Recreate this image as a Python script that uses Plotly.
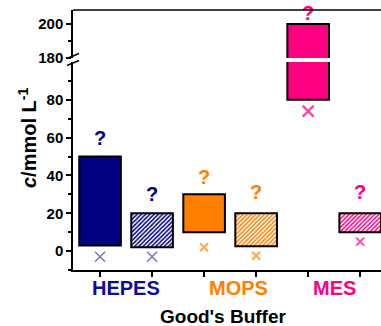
import plotly.graph_objects as go

# Buffer concentrations (mmol/L): solid box and hatched box per buffer
buffers = ["HEPES", "MOPS", "MES"]
colors = ["#000080", "#FF8000", "#FF0080"]
label_colors = ["#0C0CA0", "#FF8000", "#FF0080"]
solid_low = [3, 10, 80]
solid_high = [50, 30, 200]
hatch_low = [2, 2.5, 10]
hatch_high = [20, 20, 20]
q_solid = [59, 38, 205]
q_hatch = [29, 30, 30]
x_solid = [-3, 2, 74]
x_hatch = [-3, -2.5, 5]
cross_colors = ["#3030A0", "#FF8000", "#FF0080"]

y_ticks_low = [0, 20, 40, 60, 80]
y_ticks_high = [180, 200]
LOW_MAX = 100       # top of lower axis segment
HIGH_MIN = 180      # bottom of upper axis segment

pos_solid = [2 * i + 1 for i in range(len(buffers))]
pos_hatch = [2 * i + 2 for i in range(len(buffers))]

FONT = "Arial, Liberation Sans, sans-serif"
W, H = 381, 326
ML, MR, MT, MB = 73, 0, 10, 56
PW, PH = W - ML - MR, H - MT - MB

fig = go.Figure()

# bars drawn on both segments; each subplot clips what lies outside its range
for yax in ("y", "y2"):
    fig.add_trace(go.Bar(
        x=pos_solid, base=solid_low,
        y=[h - l for h, l in zip(solid_high, solid_low)],
        width=0.8, yaxis=yax,
        marker=dict(color=colors, line=dict(color="black", width=2)),
        showlegend=False, hoverinfo="skip"))
    fig.add_trace(go.Bar(
        x=pos_hatch, base=hatch_low,
        y=[h - l for h, l in zip(hatch_high, hatch_low)],
        width=0.8, yaxis=yax,
        marker=dict(color="white", line=dict(color="black", width=2),
                    pattern=dict(shape="/", fgcolor=colors, bgcolor="white",
                                 size=3, solidity=0.5, fillmode="replace")),
        showlegend=False, hoverinfo="skip"))


def split(xs, ys, extra):
    lo = [(x, y, e) for x, y, e in zip(xs, ys, extra) if y < HIGH_MIN]
    hi = [(x, y, e) for x, y, e in zip(xs, ys, extra) if y >= HIGH_MIN]
    return lo, hi


# question marks above the boxes
for xs, ys in ((pos_solid, q_solid), (pos_hatch, q_hatch)):
    lo, hi = split(xs, ys, colors)
    for pts, yax in ((lo, "y"), (hi, "y2")):
        if not pts:
            continue
        fig.add_trace(go.Scatter(
            x=[p[0] for p in pts], y=[p[1] for p in pts], mode="text",
            text=["?"] * len(pts), yaxis=yax, cliponaxis=False,
            textfont=dict(family=FONT, size=20, weight="bold",
                          color=[p[2] for p in pts]),
            showlegend=False, hoverinfo="skip"))

# cross markers below the boxes
cross_size = {"solid": [10, 8, 11], "hatch": [10, 8, 8]}
cross_width = {"solid": [1.2, 2, 2.5], "hatch": [1.2, 2, 2]}
for key, xs, ys in (("solid", pos_solid, x_solid), ("hatch", pos_hatch, x_hatch)):
    extra = list(zip(cross_colors, cross_size[key], cross_width[key]))
    lo, hi = split(xs, ys, extra)
    for pts, yax in ((lo, "y"), (hi, "y2")):
        if not pts:
            continue
        fig.add_trace(go.Scatter(
            x=[p[0] for p in pts], y=[p[1] for p in pts], mode="markers",
            yaxis=yax, cliponaxis=False,
            marker=dict(symbol="x-thin", size=[p[2][1] for p in pts],
                        line=dict(color=[p[2][0] for p in pts],
                                  width=[p[2][2] for p in pts])),
            showlegend=False, hoverinfo="skip"))

low_top = (270 - 62) / PH
high_bot = (270 - 58) / PH

axis_common = dict(showline=True, linecolor="black", linewidth=1.5,
                   ticks="outside", ticklen=5, tickwidth=1.5, tickcolor="black",
                   showgrid=False, zeroline=False,
                   tickfont=dict(family=FONT, size=15, weight="bold", color="black"))

fig.update_layout(
    width=W, height=H,
    margin=dict(l=ML, r=MR, t=MT, b=MB),
    paper_bgcolor="white", plot_bgcolor="white",
    barmode="overlay",
    xaxis=dict(range=[0.48, 6.4], tickvals=pos_solid + pos_hatch,
               showticklabels=False, anchor="y", **axis_common),
    yaxis=dict(domain=[0, low_top], range=[-10, LOW_MAX], tickvals=y_ticks_low,
               minor=dict(tickvals=[-10, 10, 30, 50, 70, 90], ticks="outside",
                          ticklen=3, tickwidth=1.5, tickcolor="black"),
               **axis_common),
    yaxis2=dict(domain=[high_bot, 1], range=[HIGH_MIN, 208.2], tickvals=y_ticks_high,
                anchor="x",
                minor=dict(tickvals=[190], ticks="outside",
                           ticklen=3, tickwidth=1.5, tickcolor="black"),
                **axis_common),
)


def px(xp):
    return (xp - ML) / PW


def py(yp):
    return (H - MB - yp) / PH


# top frame line and axis break marks
shapes = [dict(type="line", xref="paper", yref="paper", x0=0, x1=1, y0=1, y1=1,
               line=dict(color="black", width=1.5))]
for yc in (56, 63):
    shapes.append(dict(type="line", xref="paper", yref="paper",
                       x0=px(67), y0=py(yc + 2.5), x1=px(79), y1=py(yc - 2.5),
                       line=dict(color="black", width=1.5)))
fig.update_layout(shapes=shapes)

annotations = []
# buffer names under each pair of boxes
label_x = [1.5, 3.66, 5.5]
for name, lx, c in zip(buffers, label_x, label_colors):
    annotations.append(dict(x=lx, y=py(288), xref="x", yref="paper", text=name,
                            showarrow=False, xanchor="center", yanchor="middle",
                            font=dict(family=FONT, size=20, weight="bold", color=c)))
annotations.append(dict(x=px(223), y=py(316), xref="paper", yref="paper",
                        text="Good's Buffer", showarrow=False,
                        xanchor="center", yanchor="middle",
                        font=dict(family=FONT, size=19, weight="bold", color="black")))
annotations.append(dict(x=px(27), y=py(138), xref="paper", yref="paper",
                        text="<i>c</i>/mmol L<sup>-1</sup>", textangle=-90,
                        showarrow=False, xanchor="center", yanchor="middle",
                        font=dict(family=FONT, size=20, weight="bold", color="black")))
fig.update_layout(annotations=annotations)

fig.write_html("out.html")
